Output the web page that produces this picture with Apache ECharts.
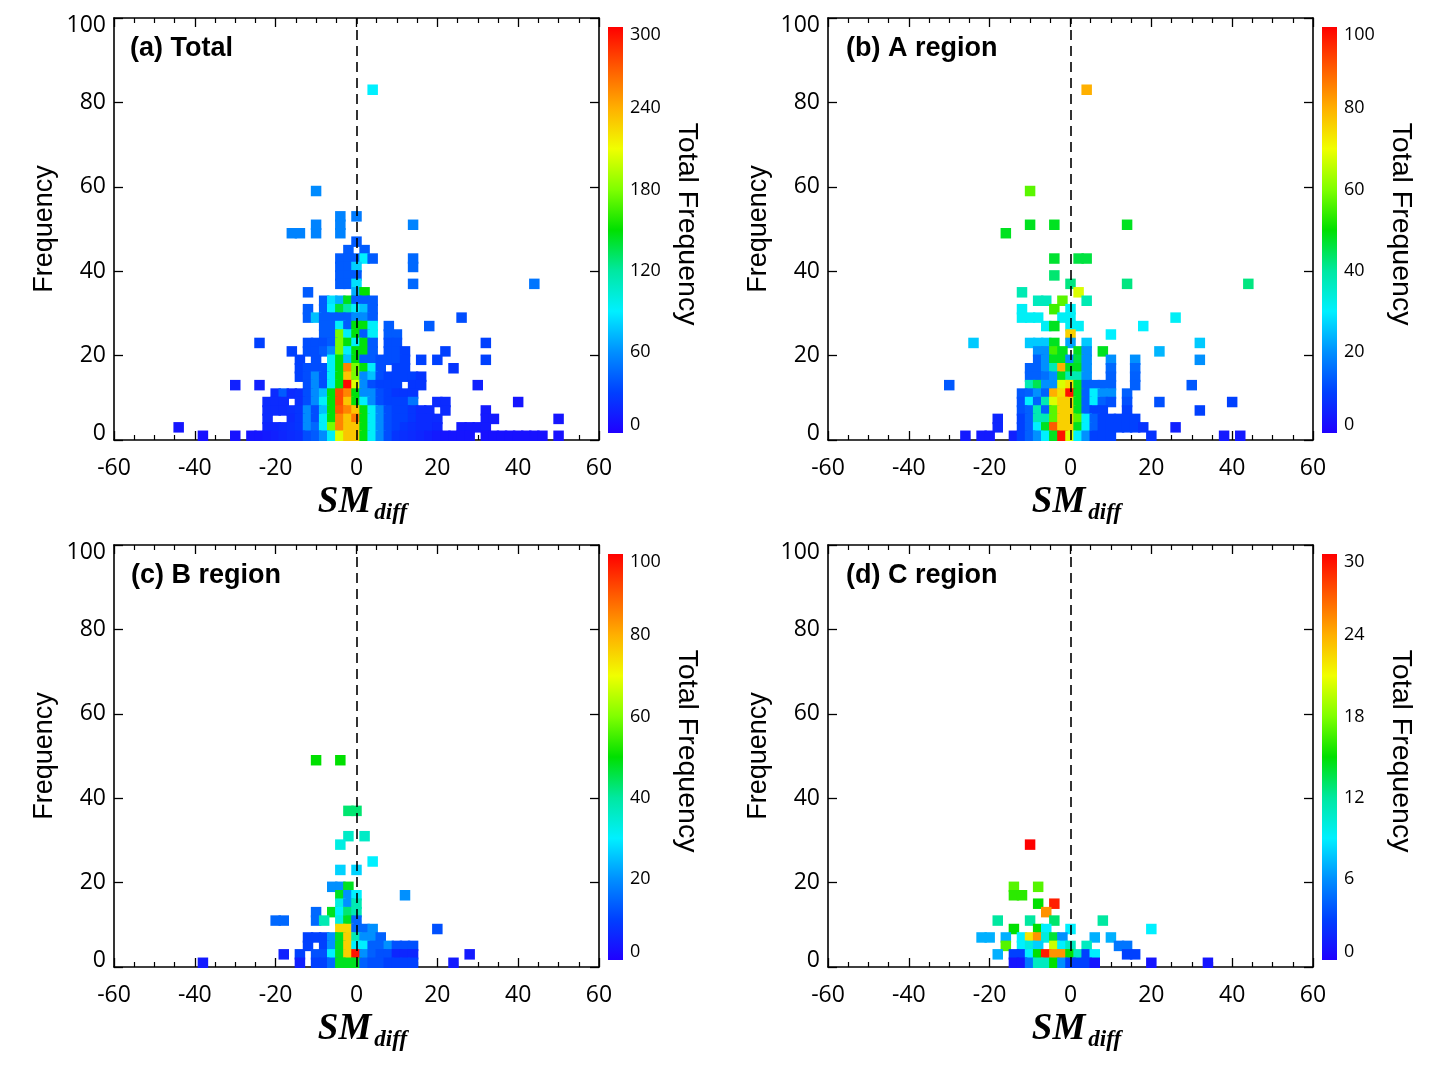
<!DOCTYPE html>
<html><head><meta charset="utf-8">
<script src="https://cdn.jsdelivr.net/npm/echarts@6/dist/echarts.min.js"></script>
<style>html,body{margin:0;padding:0;background:#fff}#c{width:1444px;height:1069px}</style>
</head><body><div id="c"></div>
<script>
// ---------------- data ----------------
const xTickLabels = [-60, -40, -20, 0, 20, 40, 60];
const yTickLabels = [0, 20, 40, 60, 80, 100];
const panelTitles = ['(a) Total', '(b) A region', '(c) B region', '(d) C region'];
const colorMax = [300, 100, 100, 30];
const palette = ['#2000ff','#0040ff','#0090ff','#00f0ff','#00e8a0','#00e000','#80ff00','#f0ff00','#ffb000','#ff5a00','#ff0000'];

// [SM_diff, Frequency, Total Frequency]
const totalCells = [
[4,83,90],[44,37,50],
[-10,59,58],
[-4,53,55],[0,53,52],
[-10,51,55],[-4,51,55],[14,51,55],
[-16,49,55],[-14,49,55],[-10,49,55],[-4,49,55],
[0,47,40],
[-2,45,40],[2,45,40],
[-4,43,40],[-2,43,40],[0,43,40],[2,43,90],[4,43,40],[14,43,45],
[-4,41,40],[-2,41,40],[0,41,80],[14,41,45],
[-4,39,40],[-2,39,40],[0,39,40],
[-4,37,40],[-2,37,40],[0,37,85],[14,37,45],
[-12,35,40],[0,35,70],[2,35,150],
[-8,33,40],[-6,33,85],[-4,33,70],[-2,33,145],[0,33,40],[2,33,40],[4,33,40],
[-12,31,40],[-8,31,40],[-6,31,90],[-4,31,140],[-2,31,118],[0,31,92],[2,31,75],[4,31,40],
[-12,29,40],[-10,29,75],[-8,29,40],[-6,29,40],[-4,29,40],[-2,29,40],[0,29,58],[2,29,58],[4,29,40],[26,29,35],
[-8,27,40],[-6,27,40],[-4,27,92],[-2,27,40],[0,27,148],[2,27,148],[4,27,92],[8,27,40],[18,27,40],
[-8,25,40],[-6,25,40],[-4,25,178],[-2,25,92],[0,25,148],[2,25,40],[4,25,92],[8,25,40],[10,25,40],
[-24,23,30],[-12,23,35],[-10,23,35],[-8,23,35],[-6,23,40],[-4,23,178],[-2,23,148],[0,23,92],[2,23,148],[4,23,40],[8,23,35],[10,23,35],[32,23,30],
[-16,21,30],[-12,21,35],[-10,21,35],[-8,21,40],[-6,21,58],[-4,21,178],[-2,21,92],[0,21,148],[2,21,148],[4,21,40],[8,21,35],[10,21,35],[12,21,30],[22,21,30],
[-14,19,30],[-10,19,35],[-6,19,92],[-4,19,148],[-2,19,75],[0,19,148],[2,19,40],[4,19,40],[6,19,35],[8,19,35],[10,19,35],[12,19,30],[16,19,30],[20,19,30],[32,19,30],
[-14,17,30],[-12,17,35],[-10,17,35],[-8,17,35],[-6,17,92],[-4,17,148],[-2,17,255],[0,17,178],[2,17,148],[4,17,92],[6,17,35],[10,17,30],[12,17,30],[24,17,25],
[-14,15,30],[-12,15,35],[-10,15,58],[-8,15,35],[-6,15,92],[-4,15,148],[-2,15,232],[0,15,178],[2,15,58],[4,15,75],[6,15,35],[8,15,30],[10,15,30],[12,15,30],[14,15,30],[16,15,25],
[-30,13,15],[-24,13,15],[-12,13,35],[-10,13,58],[-8,13,35],[-6,13,92],[-4,13,148],[-2,13,298],[0,13,205],[2,13,58],[4,13,35],[6,13,30],[8,13,30],[10,13,30],[14,13,25],[16,13,25],[30,13,15],
[-20,11,20],[-18,11,40],[-16,11,20],[-14,11,22],[-12,11,35],[-10,11,58],[-8,11,75],[-6,11,148],[-4,11,275],[-2,11,255],[0,11,148],[2,11,58],[4,11,58],[6,11,35],[8,11,30],[10,11,25],[12,11,25],[14,11,25],
[-22,9,20],[-20,9,20],[-18,9,20],[-14,9,22],[-12,9,35],[-10,9,58],[-8,9,92],[-6,9,148],[-4,9,275],[-2,9,232],[0,9,148],[2,9,92],[4,9,58],[6,9,35],[8,9,30],[10,9,30],[12,9,30],[14,9,50],[20,9,20],[22,9,20],[40,9,10],
[-22,7,20],[-20,7,20],[-18,7,20],[-16,7,22],[-14,7,25],[-12,7,58],[-10,7,35],[-8,7,75],[-6,7,148],[-4,7,270],[-2,7,255],[0,7,232],[2,7,148],[4,7,92],[6,7,58],[8,7,35],[10,7,30],[12,7,30],[14,7,25],[16,7,20],[18,7,20],[22,7,20],[32,7,12],
[-22,5,20],[-16,5,20],[-14,5,25],[-12,5,58],[-10,5,35],[-8,5,92],[-6,5,148],[-4,5,255],[-2,5,232],[0,5,260],[2,5,148],[4,5,92],[6,5,58],[8,5,35],[10,5,30],[12,5,30],[14,5,25],[16,5,20],[18,5,20],[20,5,20],[32,5,12],[34,5,12],[50,5,10],
[-44,3,10],[-22,3,18],[-20,3,18],[-18,3,20],[-16,3,22],[-14,3,25],[-12,3,58],[-10,3,45],[-8,3,92],[-6,3,178],[-4,3,255],[-2,3,232],[0,3,232],[2,3,148],[4,3,92],[6,3,58],[8,3,35],[10,3,30],[12,3,25],[14,3,22],[16,3,20],[18,3,20],[20,3,18],[26,3,12],[28,3,12],[30,3,12],[32,3,12],
[-38,1,8],[-30,1,8],[-26,1,10],[-24,1,10],[-22,1,12],[-20,1,15],[-18,1,18],[-16,1,20],[-14,1,22],[-12,1,35],[-10,1,40],[-8,1,58],[-6,1,92],[-4,1,205],[-2,1,232],[0,1,232],[2,1,148],[4,1,92],[6,1,58],[8,1,35],[10,1,25],[12,1,22],[14,1,20],[16,1,18],[18,1,15],[20,1,12],[22,1,10],[24,1,10],[26,1,10],[28,1,10],[32,1,8],[34,1,8],[36,1,8],[38,1,8],[40,1,8],[42,1,8],[44,1,8],[46,1,8],[50,1,8]
];

const regionACells = [
[4,83,80],
[-10,59,57],
[-10,51,48],[-4,51,48],[14,51,48],
[-16,49,48],
[-4,43,47],[2,43,46],[4,43,46],
[-4,39,43],
[0,37,42],[14,37,42],[44,37,42],
[-12,35,38],[2,35,68],
[-8,33,37],[-6,33,37],[-2,33,57],[4,33,38],
[-12,31,31],[-4,31,55],[0,31,31],
[-12,29,31],[-10,29,31],[-8,29,31],[-2,29,31],[0,29,31],[26,29,31],
[-6,27,31],[-4,27,48],[0,27,31],[2,27,31],[18,27,30],
[0,25,76],[10,25,30],
[-24,23,26],[-10,23,26],[-8,23,26],[-6,23,26],[-4,23,48],[0,23,22],[4,23,26],[32,23,26],
[-8,21,20],[-6,21,20],[-4,21,55],[-2,21,48],[2,21,48],[4,21,20],[8,21,48],[22,21,24],
[-8,19,14],[-6,19,20],[-4,19,48],[-2,19,48],[0,19,20],[2,19,46],[4,19,20],[10,19,20],[16,19,20],[32,19,20],
[-10,17,14],[-8,17,14],[-6,17,20],[-4,17,38],[-2,17,80],[0,17,48],[2,17,48],[4,17,20],[10,17,15],[16,17,15],
[-10,15,14],[-8,15,14],[-6,15,16],[-4,15,20],[-2,15,48],[0,15,38],[2,15,38],[4,15,20],[10,15,14],[16,15,14],
[-30,13,13],[-10,13,38],[-8,13,45],[-6,13,20],[-4,13,20],[-2,13,68],[0,13,74],[2,13,48],[4,13,14],[6,13,14],[8,13,14],[10,13,14],[16,13,14],[30,13,13],
[-12,11,13],[-10,11,14],[-8,11,20],[-6,11,14],[-4,11,80],[-2,11,74],[0,11,98],[2,11,48],[4,11,14],[6,11,30],[8,11,20],[10,11,20],[14,11,14],
[-12,9,12],[-10,9,30],[-8,9,14],[-6,9,38],[-4,9,68],[-2,9,76],[0,9,76],[2,9,48],[4,9,14],[6,9,30],[8,9,14],[10,9,12],[14,9,12],[22,9,12],[40,9,10],
[-12,7,12],[-10,7,14],[-8,7,38],[-6,7,14],[-4,7,57],[-2,7,76],[0,7,76],[2,7,48],[4,7,14],[6,7,10],[8,7,10],[14,7,10],[32,7,10],
[-18,5,6],[-12,5,10],[-10,5,14],[-8,5,38],[-6,5,38],[-4,5,57],[-2,5,76],[0,5,76],[2,5,57],[4,5,30],[6,5,14],[8,5,10],[10,5,10],[12,5,10],[14,5,10],[16,5,10],
[-18,3,6],[-12,3,10],[-10,3,14],[-8,3,30],[-6,3,48],[-4,3,90],[-2,3,76],[0,3,76],[2,3,48],[4,3,30],[6,3,14],[8,3,10],[10,3,10],[12,3,10],[14,3,10],[16,3,10],[18,3,8],[26,3,5],
[-26,1,4],[-22,1,4],[-20,1,4],[-14,1,5],[-12,1,10],[-10,1,14],[-8,1,20],[-6,1,30],[-4,1,48],[-2,1,98],[0,1,68],[2,1,30],[4,1,20],[6,1,10],[8,1,10],[10,1,10],[20,1,8],[38,1,4],[42,1,4]
];

const regionBCells = [
[-10,49,50],[-4,49,50],
[-2,37,43],[0,37,43],
[-2,31,36],[2,31,36],
[-4,29,33],
[4,25,30],
[-4,23,27],[0,23,27],
[-6,19,20],[-4,19,20],[-2,19,48],
[-4,17,48],[-2,17,20],[0,17,30],[12,17,20],
[-4,15,33],[-2,15,20],[0,15,38],
[-10,13,15],[-6,13,48],[-4,13,30],[-2,13,43],[0,13,38],
[-20,11,15],[-18,11,15],[-10,11,15],[-8,11,38],[-4,11,33],[-2,11,48],[0,11,15],
[-4,9,75],[-2,9,75],[0,9,15],[2,9,15],[4,9,20],[20,9,12],
[-12,7,10],[-10,7,10],[-8,7,10],[-6,7,20],[-4,7,48],[-2,7,76],[0,7,38],[2,7,20],[4,7,20],[6,7,14],
[-12,5,10],[-8,5,10],[-6,5,20],[-4,5,48],[-2,5,76],[0,5,30],[2,5,30],[4,5,14],[6,5,14],[8,5,20],[10,5,12],[12,5,12],[14,5,12],
[-18,3,5],[-14,3,10],[-10,3,12],[-8,3,12],[-6,3,30],[-4,3,48],[-2,3,76],[0,3,98],[2,3,20],[4,3,14],[6,3,12],[8,3,12],[10,3,6],[12,3,6],[14,3,6],[28,3,4],
[-38,1,4],[-14,1,5],[-10,1,10],[-8,1,10],[-6,1,15],[-4,1,48],[-2,1,48],[0,1,48],[2,1,14],[4,1,12],[6,1,12],[8,1,10],[10,1,10],[12,1,10],[14,1,10],[24,1,4]
];

const regionCCells = [
[-10,29,30],
[-14,19,17],[-8,19,17],
[-14,17,16],[-12,17,16],
[-8,15,15],[-4,15,29],
[-6,13,25],
[-18,11,12],[-10,11,12],[-4,11,13],[8,11,12],
[-14,9,15],[-8,9,15],[-6,9,9],[0,9,9],[20,9,9],
[-22,7,7],[-20,7,7],[-16,7,7],[-12,7,9],[-10,7,22],[-8,7,25],[-6,7,10],[-4,7,14],[-2,7,6],[6,7,7],[10,7,7],
[-16,5,17],[-12,5,9],[-10,5,10],[-8,5,8],[-4,5,20],[-2,5,9],[0,5,11],[4,5,11],[12,5,5],[14,5,5],
[-18,3,7],[-14,3,3],[-12,3,3],[-10,3,9],[-8,3,15],[-6,3,29],[-4,3,25],[-2,3,25],[0,3,15],[2,3,11],[4,3,3],[6,3,9],[14,3,3],[16,3,3],
[-14,1,1],[-12,1,1],[-10,1,5],[-8,1,11],[-6,1,11],[-4,1,15],[-2,1,6],[0,1,3],[2,1,3],[4,1,3],[6,1,1],[20,1,1],[34,1,1]
];

// ---------------- layout ----------------
const panelData = [totalCells, regionACells, regionBCells, regionCCells];
const plotBoxes = [
  {left: 114, top: 18, width: 485, height: 422},
  {left: 828, top: 18, width: 485, height: 422},
  {left: 114, top: 545, width: 485, height: 422},
  {left: 828, top: 545, width: 485, height: 422}
];
const barBoxes = [
  {left: 608, top: 27, width: 15, height: 406},
  {left: 1322, top: 27, width: 15, height: 406},
  {left: 608, top: 554, width: 15, height: 406},
  {left: 1322, top: 554, width: 15, height: 406}
];
const titlePos = [[125, 30], [841, 30], [126, 557], [841, 557]];

const sansLabel = 'Open Sans';
const sansTitle = 'Liberation Sans';
const serif = 'Liberation Serif';
const black = '#000';

const grid = [], xAxis = [], yAxis = [], series = [], visualMap = [], title = [];

const gradStops = palette.map((c, i) => ({offset: i / (palette.length - 1), color: c}));

for (let i = 0; i < 4; i++) {
  grid.push(Object.assign({}, plotBoxes[i]));
  const frameLine = {show: true, onZero: false, lineStyle: {color: black, width: 1.6}};
  const baseX = {
    type: 'value', gridIndex: i, min: xTickLabels[0], max: xTickLabels[xTickLabels.length - 1], interval: 20,
    axisLine: frameLine, splitLine: {show: false},
    axisTick: {show: true, inside: true, length: 9, lineStyle: {color: black, width: 1.3}},
    minorTick: {show: true, splitNumber: 4, length: 5, lineStyle: {color: black, width: 1.2}}
  };
  xAxis.push(Object.assign({}, baseX, {
    position: 'bottom',
    axisLabel: {fontFamily: sansLabel, fontSize: 23, color: black, margin: 17},
    name: '{s|SM}{d|diff}', nameLocation: 'middle', nameGap: 40,
    nameTextStyle: {color: black, padding: [0, 0, 0, 12], rich: {
      s: {fontFamily: serif, fontStyle: 'italic', fontWeight: 'bold', fontSize: 37, color: black},
      d: {fontFamily: serif, fontStyle: 'italic', fontWeight: 'bold', fontSize: 23, color: black, padding: [22, 0, 0, 3]}
    }}
  }));
  xAxis.push(Object.assign({}, baseX, {position: 'top', axisLabel: {show: false}}));
  const baseY = {
    type: 'value', gridIndex: i, min: yTickLabels[0], max: yTickLabels[yTickLabels.length - 1], interval: 20,
    axisLine: frameLine, splitLine: {show: false},
    axisTick: {show: true, inside: true, length: 9, lineStyle: {color: black, width: 1.3}}
  };
  yAxis.push(Object.assign({}, baseY, {
    position: 'left',
    axisLabel: {fontFamily: sansLabel, fontSize: 23, lineHeight: 14, color: black, margin: 8,
      verticalAlignMinLabel: 'bottom', verticalAlignMaxLabel: 'top'},
    name: 'Frequency', nameLocation: 'middle', nameGap: 56,
    nameTextStyle: {fontFamily: sansTitle, fontSize: 27, color: black}
  }));
  yAxis.push(Object.assign({}, baseY, {position: 'right', axisLabel: {show: false}}));

  series.push({
    type: 'scatter', name: panelTitles[i], xAxisIndex: i * 2, yAxisIndex: i * 2,
    symbol: 'rect', symbolSize: 10.5, data: panelData[i],
    itemStyle: {opacity: 1}, silent: true,
    markLine: {
      silent: true, symbol: 'none', label: {show: false},
      lineStyle: {color: black, type: [10, 6], width: 1.6},
      data: [{xAxis: 0}]
    }
  });
  visualMap.push({
    type: 'continuous', show: false, seriesIndex: i, dimension: 2,
    min: 0, max: colorMax[i], inRange: {color: palette}
  });
  title.push({
    text: panelTitles[i], left: titlePos[i][0], top: titlePos[i][1],
    textStyle: {fontFamily: sansTitle, fontSize: 27, fontWeight: 'bold', color: black}
  });
}

// colour bars
for (let i = 0; i < 4; i++) {
  grid.push(Object.assign({}, barBoxes[i]));
  xAxis.push({type: 'category', gridIndex: 4 + i, data: [''], show: false});
  yAxis.push({
    type: 'value', gridIndex: 4 + i, min: 0, max: colorMax[i], interval: colorMax[i] / 5,
    position: 'right', axisLine: {show: false}, axisTick: {show: false}, splitLine: {show: false},
    axisLabel: {fontFamily: sansLabel, fontSize: 18, lineHeight: 16, color: black, margin: 7,
      verticalAlignMinLabel: 'bottom', verticalAlignMaxLabel: 'top'},
    name: 'Total Frequency', nameLocation: 'middle', nameRotate: -90, nameGap: 49,
    nameTextStyle: {fontFamily: sansTitle, fontSize: 28.5, color: black, padding: [0, 12, 0, 0]}
  });
  series.push({
    type: 'bar', xAxisIndex: 8 + i, yAxisIndex: 8 + i, barWidth: '100%', silent: true,
    data: [colorMax[i]],
    itemStyle: {color: new echarts.graphic.LinearGradient(0, 1, 0, 0, gradStops)}
  });
}

const chart = echarts.init(document.getElementById('c'), null, {renderer: 'canvas'});
chart.setOption({animation: false, backgroundColor: '#fff', title, grid, xAxis, yAxis, visualMap, series});
</script></body></html>
